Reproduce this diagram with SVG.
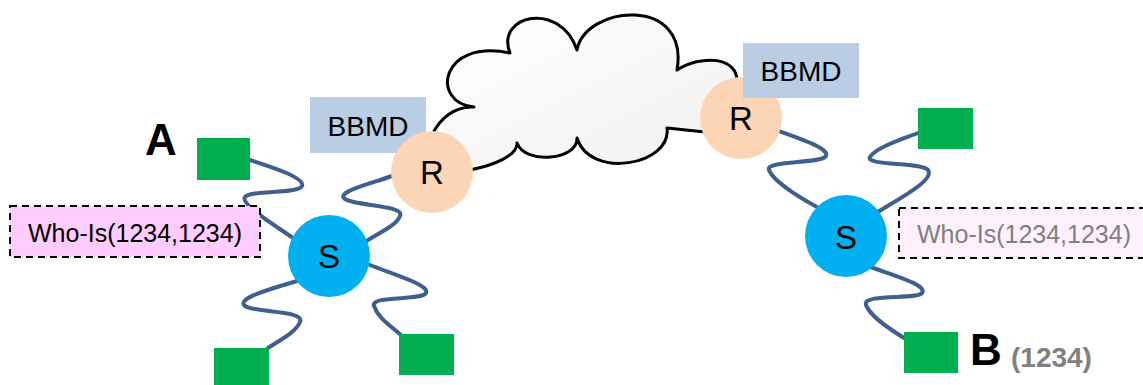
<svg xmlns="http://www.w3.org/2000/svg" width="1143" height="385" viewBox="0 0 1143 385">
  <defs>
    <linearGradient id="cloudFill" x1="0" y1="0" x2="1" y2="1">
      <stop offset="0" stop-color="#ffffff"/>
      <stop offset="1" stop-color="#f0f0f0"/>
    </linearGradient>
    <style>
      .wire { fill: none; stroke: #3f5f8e; stroke-width: 4; stroke-linecap: round; }
      .host { fill: #00b050; }
      .switch { fill: #00b0f0; }
      .router { fill: #fbd5b5; }
      .bbmd { fill: #b9cde5; }
      .lbl { font-family: "Liberation Sans", Arial, sans-serif; fill: #000; }
      .big { font-weight: bold; font-size: 44px; }
      .node-txt { font-size: 33px; text-anchor: middle; }
      .bbmd-txt { font-size: 28px; text-anchor: middle; }
      .msg { stroke: #000; stroke-width: 2; stroke-dasharray: 7 5; }
      .msg-txt { font-size: 25px; text-anchor: middle; }
      .grey { fill: #808080; }
    </style>
  </defs>

  <rect width="1143" height="385" fill="#ffffff"/>

  <!-- WAN cloud between the two routers -->
  <g id="cloud">
    <path d="M 432,135 C 440,118 455,106 474,107 C 430,103 440,38 510,53 C 495,15 560,0 577,50 C 585,5 690,-5 677,70 C 700,55 740,55 737,85 L 705,132 L 667,128 C 672,165 590,180 577,138 C 578,160 525,165 517,143 C 518,155 495,165 470,170 Z" fill="url(#cloudFill)" stroke="#000" stroke-width="3" stroke-linejoin="round"/>
  </g>

  <!-- wires -->
  <g id="connectors">
    <path class="wire" d="M 250,160 C 275,168 305,178 302,186 C 299,194 250,190 245,197 C 240,205 275,225 293,238"/>
    <path class="wire" d="M 392,176 C 370,184 335,192 345,199 C 355,206 405,205 400,216 C 396,226 380,232 365,242"/>
    <path class="wire" d="M 300,280 C 275,288 235,298 245,306 C 255,313 305,310 300,322 C 296,332 280,340 268,348"/>
    <path class="wire" d="M 370,265 C 395,275 430,285 426,293 C 422,301 370,295 374,306 C 378,318 390,325 402,336"/>
    <path class="wire" d="M 770,128 C 795,137 830,148 826,156 C 822,164 765,160 769,170 C 773,180 795,195 817,207"/>
    <path class="wire" d="M 878,212 C 900,198 935,180 928,170 C 922,162 865,166 870,157 C 875,148 900,140 918,133"/>
    <path class="wire" d="M 868,266 C 895,276 928,285 922,293 C 917,300 862,293 866,305 C 870,316 888,328 904,338"/>
  </g>

  <!-- left network -->
  <g id="bbmd-left">
    <rect class="bbmd" x="310" y="97" width="116" height="56"/>
    <text class="lbl bbmd-txt" x="368" y="136">BBMD</text>
  </g>
  <g id="router-left">
    <circle class="router" cx="432" cy="172" r="41"/>
    <text class="lbl node-txt" x="432" y="184">R</text>
  </g>
  <g id="switch-left">
    <circle class="switch" cx="329" cy="256" r="41"/>
    <text class="lbl node-txt" x="329" y="268">S</text>
  </g>
  <g id="device-a">
    <rect class="host" x="197" y="138" width="53" height="42"/>
    <text class="lbl big" x="145" y="155">A</text>
  </g>
  <g id="host-left-bottom">
    <rect class="host" x="214" y="348" width="55" height="42"/>
  </g>
  <g id="host-left-right">
    <rect class="host" x="399" y="334" width="55" height="41"/>
  </g>
  <g id="msg-left">
    <rect class="msg" x="10" y="206" width="250" height="51" fill="#ffccff"/>
    <text class="lbl msg-txt" x="135" y="242">Who-Is(1234,1234)</text>
  </g>

  <!-- right network -->
  <g id="router-right">
    <circle class="router" cx="741" cy="118" r="41"/>
    <text class="lbl node-txt" x="741" y="130">R</text>
  </g>
  <g id="bbmd-right">
    <rect class="bbmd" x="743" y="43" width="116" height="55"/>
    <text class="lbl bbmd-txt" x="801" y="81">BBMD</text>
  </g>
  <g id="switch-right">
    <circle class="switch" cx="846" cy="236" r="41"/>
    <text class="lbl node-txt" x="846" y="249">S</text>
  </g>
  <g id="host-right-top">
    <rect class="host" x="918" y="108" width="55" height="41"/>
  </g>
  <g id="device-b">
    <rect class="host" x="904" y="332" width="54" height="41"/>
    <text class="lbl big" x="970" y="365" font-size="42">B</text>
    <text class="lbl grey" x="1011" y="367" font-size="28" font-weight="bold">(1234)</text>
  </g>
  <g id="msg-right">
    <rect class="msg" x="899" y="208" width="260" height="50" fill="#fff0fd"/>
    <text class="lbl msg-txt grey" x="1024" y="243">Who-Is(1234,1234)</text>
  </g>
</svg>
